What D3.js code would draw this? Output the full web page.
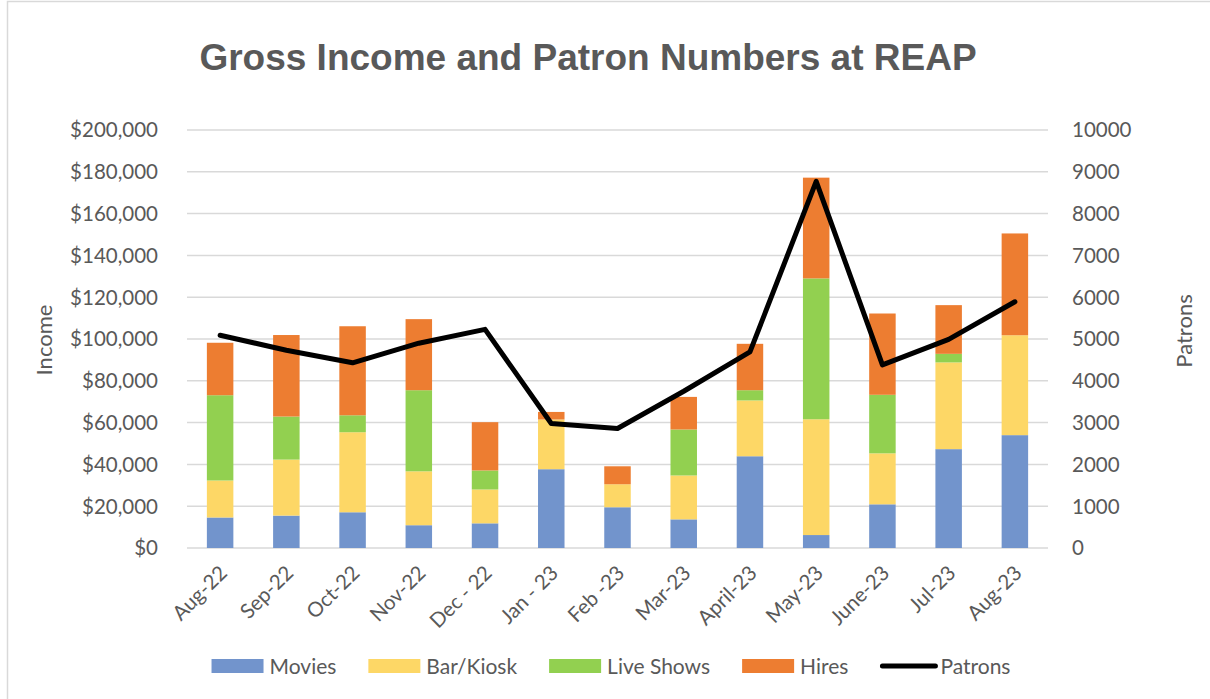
<!DOCTYPE html>
<html>
<head>
<meta charset="utf-8">
<script src="https://cdn.jsdelivr.net/npm/d3@7"></script>
<style>
  body { margin: 0; background: #fff; }
  svg text { font-family: Lato, "Open Sans", sans-serif; fill: #595959; }
</style>
</head>
<body>
<div id="chart"></div>
<script>
// data
var months = ["Aug-22", "Sep-22", "Oct-22", "Nov-22", "Dec - 22", "Jan - 23", "Feb -23",
              "Mar-23", "April-23", "May-23", "June-23", "Jul-23", "Aug-23"];
var movies    = [14600, 15500, 17100, 10900, 11800, 37700, 19500, 13700, 43900,  6200, 20900, 47300, 54000];
var barKiosk  = [17700, 26800, 38300, 25800, 16200, 23800, 11000, 21000, 26700, 55400, 24400, 41500, 47800];
var liveShows = [40800, 20600,  8100, 38800,  9100,     0,     0, 22000,  4900, 67400, 28000,  4100,     0];
var hires     = [25100, 39000, 42600, 34000, 23100,  3600,  8600, 15600, 22200, 48200, 38900, 23300, 48700];
var patrons   = [5090, 4730, 4430, 4900, 5230, 2980, 2860, 3750, 4690, 8770, 4380, 4990, 5890];
var incomeTicks  = [0, 20000, 40000, 60000, 80000, 100000, 120000, 140000, 160000, 180000, 200000];
var patronTicks  = [0, 1000, 2000, 3000, 4000, 5000, 6000, 7000, 8000, 9000, 10000];

var seriesNames = ["Movies", "Bar/Kiosk", "Live Shows", "Hires"];
var colors = ["#7294cc", "#fdd766", "#92d050", "#ed7d31"];

var width = 1210, height = 699;
var margin = {top: 130, right: 162, bottom: 151, left: 187};

var table = months.map(function(m, i) {
  return {"month": m, "Movies": movies[i], "Bar/Kiosk": barKiosk[i],
          "Live Shows": liveShows[i], "Hires": hires[i]};
});

var stack = d3.stack().keys(seriesNames);
var series = stack(table);

var svg = d3.select("#chart").append("svg")
  .attr("width", width)
  .attr("height", height);

// chart border (only top and left fall inside the picture)
svg.append("path")
  .attr("d", "M7.5,700 V1.5 H1212")
  .attr("fill", "none")
  .attr("stroke", "#d9d9d9")
  .attr("stroke-width", 1.5);

var x = d3.scaleBand()
  .domain(months)
  .range([margin.left, width - margin.right])
  .paddingInner(0.6)
  .paddingOuter(0.3);

var y = d3.scaleLinear()
  .domain([0, 200000])
  .range([height - margin.bottom, margin.top]);

var y2 = d3.scaleLinear()
  .domain([0, 10000])
  .range([height - margin.bottom, margin.top]);

// gridlines
svg.append("g")
  .selectAll("line")
  .data(incomeTicks)
  .join("line")
  .attr("x1", margin.left)
  .attr("x2", width - margin.right)
  .attr("y1", d => y(d))
  .attr("y2", d => y(d))
  .attr("stroke", "#d9d9d9")
  .attr("stroke-width", 1.5);

// left axis labels
var fmt = d3.format("$,");
svg.append("g")
  .selectAll("text")
  .data(incomeTicks)
  .join("text")
  .attr("x", 158)
  .attr("y", d => y(d))
  .attr("dy", "0.36em")
  .attr("text-anchor", "end")
  .style("font-size", "20.5px")
  .text(d => fmt(d));

// right axis labels
svg.append("g")
  .selectAll("text")
  .data(patronTicks)
  .join("text")
  .attr("x", 1072)
  .attr("y", d => y2(d))
  .attr("dy", "0.36em")
  .attr("text-anchor", "start")
  .style("font-size", "20.5px")
  .text(d => d);

// stacked bars
svg.append("g")
  .selectAll("g")
  .data(series)
  .join("g")
  .attr("fill", (d, i) => colors[i])
  .selectAll("rect")
  .data(d => d)
  .join("rect")
  .attr("x", d => x(d.data.month))
  .attr("y", d => y(d[1]))
  .attr("height", d => y(d[0]) - y(d[1]))
  .attr("width", x.bandwidth());

// patrons line
var line = d3.line()
  .x((d, i) => x(months[i]) + x.bandwidth() / 2)
  .y(d => y2(d));

svg.append("path")
  .datum(patrons)
  .attr("d", line)
  .attr("fill", "none")
  .attr("stroke", "#000")
  .attr("stroke-width", 5)
  .attr("stroke-linejoin", "round")
  .attr("stroke-linecap", "round");

// x labels
svg.append("g")
  .selectAll("text")
  .data(months)
  .join("text")
  .attr("transform", d => "translate(" + (x(d) + x.bandwidth() / 2 + 3) + ",569) rotate(-45)")
  .attr("dy", "0.36em")
  .attr("text-anchor", "end")
  .style("font-size", "20.5px")
  .text(d => d);

// title
svg.append("text")
  .attr("x", 588)
  .attr("y", 70)
  .attr("text-anchor", "middle")
  .style("font-family", "'Liberation Sans', Arial, sans-serif")
  .style("font-weight", "bold")
  .style("font-size", "37px")
  .text("Gross Income and Patron Numbers at REAP");

// axis titles
svg.append("text")
  .attr("transform", "translate(52,340) rotate(-90)")
  .attr("text-anchor", "middle")
  .style("font-size", "22px")
  .text("Income");

svg.append("text")
  .attr("transform", "translate(1192,331) rotate(-90)")
  .attr("text-anchor", "middle")
  .style("font-size", "22px")
  .text("Patrons");

// legend
var legendItems = seriesNames.concat(["Patrons"]);
var legend = svg.append("g");
var lx = 0;
legendItems.forEach(function(name, i) {
  var g = legend.append("g").attr("transform", "translate(" + lx + ",0)");
  if (i < 4) {
    g.append("rect").attr("x", 0).attr("y", 659).attr("width", 52).attr("height", 14).attr("fill", colors[i]);
  } else {
    g.append("line").attr("x1", 2).attr("x2", 55).attr("y1", 666).attr("y2", 666)
      .attr("stroke", "#000").attr("stroke-width", 5).attr("stroke-linecap", "round");
  }
  var t = g.append("text")
    .attr("x", i < 4 ? 58 : 60)
    .attr("y", 666)
    .attr("dy", "0.36em")
    .style("font-size", "21px")
    .text(name);
  lx += (i < 4 ? 58 : 60) + t.node().getComputedTextLength() + 32;
});
var legendWidth = lx - 32;
legend.attr("transform", "translate(" + (611 - legendWidth / 2) + ",0)");
</script>
</body>
</html>
